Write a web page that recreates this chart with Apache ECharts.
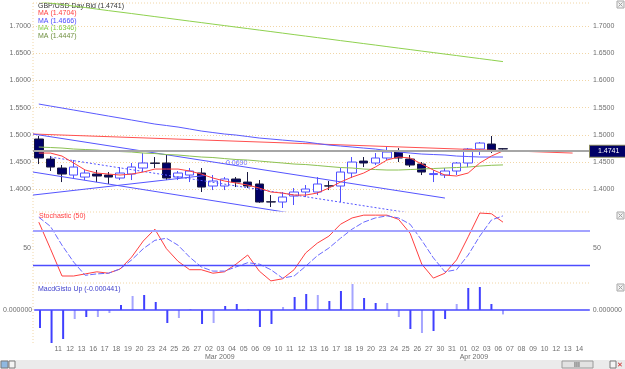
<!DOCTYPE html>
<html>
<head>
<meta charset="utf-8">
<script src="https://cdn.jsdelivr.net/npm/echarts@6/dist/echarts.min.js"></script>
<style>
  html, body { margin: 0; padding: 0; background: #fff; }
  #chart { width: 625px; height: 369px; }
</style>
</head>
<body>
<div id="chart"></div>
<script>
  // day labels, one per slot (Feb 10 .. Apr 14 + one empty slot)
  var dayLabels = ['10', '11', '12', '13', '16', '17', '18', '19', '20', '23', '24', '25', '26', '27',
    '02', '03', '04', '05', '06', '09', '10', '11', '12', '13', '16', '17', '18', '19', '20', '23', '24', '25', '26', '27', '30', '31',
    '01', '02', '03', '06', '07', '08', '09', '10', '12', '13', '14', '']
  var monthLabels = {14: 'Mar 2009', 36: 'Apr 2009'}

  // [open, close, low, high]
  var candles = [
    [1.4923, 1.4574, 1.4463, 1.4978], [1.4555, 1.4408, 1.4335, 1.4610], [1.4390, 1.4279, 1.4132, 1.4445],
    [1.4261, 1.4408, 1.4206, 1.4537], [1.4224, 1.4298, 1.4169, 1.4353], [1.4279, 1.4243, 1.4132, 1.4353],
    [1.4261, 1.4224, 1.4096, 1.4316], [1.4206, 1.4298, 1.4169, 1.4408], [1.4279, 1.4408, 1.4169, 1.4482],
    [1.4390, 1.4482, 1.4316, 1.4665], [1.4482, 1.4475, 1.4390, 1.4592], [1.4482, 1.4206, 1.4169, 1.4629],
    [1.4224, 1.4298, 1.4169, 1.4335], [1.4261, 1.4335, 1.4132, 1.4390], [1.4298, 1.4040, 1.3949, 1.4390],
    [1.4059, 1.4151, 1.3985, 1.4261], [1.4059, 1.4188, 1.3985, 1.4224], [1.4188, 1.4132, 1.4040, 1.4224],
    [1.4132, 1.4059, 1.4022, 1.4316], [1.4096, 1.3765, 1.3750, 1.4169], [1.3770, 1.3765, 1.3673, 1.3893],
    [1.3765, 1.3857, 1.3655, 1.3949], [1.3875, 1.3949, 1.3710, 1.4022], [1.3949, 1.4004, 1.3857, 1.4077],
    [1.3949, 1.4096, 1.3893, 1.4224], [1.4062, 1.4059, 1.3985, 1.4151], [1.4059, 1.4316, 1.3765, 1.4390],
    [1.4298, 1.4500, 1.4206, 1.4592], [1.4518, 1.4482, 1.4408, 1.4592], [1.4482, 1.4574, 1.4445, 1.4665],
    [1.4574, 1.4684, 1.4537, 1.4776], [1.4684, 1.4574, 1.4500, 1.4757], [1.4555, 1.4445, 1.4408, 1.4629],
    [1.4463, 1.4316, 1.4261, 1.4500], [1.4270, 1.4288, 1.4132, 1.4353], [1.4261, 1.4335, 1.4206, 1.4390],
    [1.4335, 1.4482, 1.4261, 1.4500], [1.4482, 1.4739, 1.4408, 1.4757], [1.4739, 1.4849, 1.4629, 1.4868],
    [1.4831, 1.4721, 1.4665, 1.4978], [1.4745, 1.4741, 1.4730, 1.4757]
  ]
  var lastPrice = 1.4741

  var maRed = [1.4665, 1.4665, 1.4610, 1.4482, 1.4353, 1.4298, 1.4279, 1.4261, 1.4279, 1.4316,
    1.4371, 1.4371, 1.4371, 1.4335, 1.4279, 1.4206, 1.4151, 1.4114, 1.4077, 1.4022,
    1.3949, 1.3930, 1.3893, 1.3893, 1.3930, 1.4022, 1.4132, 1.4224, 1.4298, 1.4408,
    1.4537, 1.4592, 1.4574, 1.4463, 1.4353, 1.4261, 1.4243, 1.4298, 1.4482, 1.4610, 1.4704]
  var maBlue = [1.5566, 1.5529, 1.5493, 1.5456, 1.5419, 1.5382, 1.5345, 1.5309, 1.5272, 1.5235,
    1.5198, 1.5171, 1.5143, 1.5107, 1.5070, 1.5042, 1.5015, 1.4996, 1.4969, 1.4941,
    1.4923, 1.4904, 1.4886, 1.4868, 1.4840, 1.4812, 1.4794, 1.4776, 1.4757, 1.4739,
    1.4711, 1.4684, 1.4665, 1.4647, 1.4638, 1.4629, 1.4610, 1.4601, 1.4592, 1.4592, 1.4592]
  var maGreen = [1.7449, 1.7421, 1.7394, 1.7366, 1.7340, 1.7311, 1.7283, 1.7256, 1.7229, 1.7201,
    1.7173, 1.7146, 1.7118, 1.7090, 1.7063, 1.7035, 1.7008, 1.6980, 1.6953, 1.6925,
    1.6898, 1.6870, 1.6842, 1.6815, 1.6787, 1.6760, 1.6732, 1.6705, 1.6677, 1.6650,
    1.6622, 1.6594, 1.6567, 1.6539, 1.6512, 1.6484, 1.6457, 1.6429, 1.6402, 1.6374, 1.6346]
  var maOlive = [1.4776, 1.4767, 1.4757, 1.4739, 1.4730, 1.4721, 1.4702, 1.4693, 1.4684, 1.4665,
    1.4656, 1.4638, 1.4629, 1.4610, 1.4592, 1.4583, 1.4564, 1.4546, 1.4537, 1.4518,
    1.4500, 1.4482, 1.4463, 1.4454, 1.4436, 1.4417, 1.4399, 1.4390, 1.4371, 1.4362,
    1.4353, 1.4353, 1.4362, 1.4371, 1.4381, 1.4390, 1.4399, 1.4408, 1.4426, 1.4440, 1.4447]

  // drawn trend lines: [slot, price] end points
  var trendRed = [[-0.5, 1.5015], [46, 1.4665]]
  var trendBlueUpper = [[-0.5, 1.5015], [35, 1.3838]]
  var trendBlueLower = [[-0.5, 1.4316], [21.7, 1.3563]]
  var trendBlueMid = [[1, 1.4592], [32, 1.3563]]
  var trendBlueRise = [[-0.5, 1.3893], [14.3, 1.4252]]

  var stochK = [87, 49, 10, 10, 13, 16, 14, 20, 37, 60, 77, 49, 31, 19, 19, 14, 16, 27, 40, 17,
    3, 6, 19, 43, 57, 67, 84, 93, 97, 97, 97, 91, 71, 27, 7, 14, 33, 66, 100, 99, 87]
  var stochD = [94, 81, 54, 30, 11, 13, 14, 20, 33, 49, 61, 64, 54, 37, 23, 17, 17, 23, 29, 27,
    19, 7, 10, 24, 39, 50, 64, 77, 87, 93, 96, 93, 84, 61, 36, 16, 19, 40, 67, 90, 96]
  var stochLevels = [75, 25]

  var macd = [-0.0018, -0.0033, -0.0029, -0.0009, -0.0007, -0.0007, -0.0003, 0.0005, 0.0014, 0.0015,
    0.0008, -0.0013, -0.0008, 0.0001, -0.0014, -0.0013, 0.0004, 0.0006, 0.0001, -0.0017,
    -0.0014, 0.0003, 0.0013, 0.0016, 0.0015, 0.0009, 0.0019, 0.0026, 0.0012, 0.0007,
    0.0007, -0.0007, -0.0019, -0.0023, -0.0021, -0.0009, 0.0006, 0.0022, 0.0023, 0.0006, -0.000441]
  var macdLight = [0, 0, 0, 1, 0, 1, 1, 0, 1, 0, 0, 0, 1, 1, 0, 1, 0, 0, 1, 0,
    0, 1, 0, 0, 1, 0, 0, 1, 0, 0, 1, 1, 0, 1, 0, 0, 1, 0, 0, 0, 1]

  var priceTicks = [1.40, 1.45, 1.50, 1.55, 1.60, 1.65, 1.70]

  var font = 'Liberation Sans'
  var labelColor = '#6e6e6e'
  var gridColor = '#f1d6a6'

  function catAxis (grid, showLabels) {
    return {
      type: 'category',
      gridIndex: grid,
      data: dayLabels,
      boundaryGap: true,
      axisLine: {show: false},
      axisTick: {show: false},
      splitLine: {show: false},
      axisLabel: showLabels ? {
        show: true,
        interval: 0,
        align: 'left',
        verticalAlign: 'top',
        padding: [0, 0, 0, 3],
        margin: 2,
        fontSize: 7,
        lineHeight: 8,
        fontFamily: font,
        color: labelColor,
        formatter: function (val, idx) {
          if (idx === 0) return ''
          return monthLabels[idx] ? val + '\n' + monthLabels[idx] : val
        }
      } : {show: false}
    }
  }

  function valAxis (grid, pos, min, max, ticks, fmt, split) {
    return {
      type: 'value',
      gridIndex: grid,
      position: pos,
      min: min,
      max: max,
      axisLine: {show: false},
      axisTick: {show: false, customValues: ticks},
      splitLine: {show: !!split, lineStyle: {color: gridColor, type: [1, 2], width: 1}},
      axisLabel: {
        customValues: ticks,
        margin: pos === 'left' ? 2 : 3,
        fontSize: 7,
        fontFamily: font,
        color: labelColor,
        formatter: fmt
      }
    }
  }

  function trend (data, color, dashed) {
    return {
      type: 'line',
      xAxisIndex: 1,
      yAxisIndex: 0,
      data: data,
      symbol: 'none',
      silent: true,
      lineStyle: {color: color, width: 1, type: dashed ? [2, 2] : 'solid'},
      z: 3
    }
  }

  function ma (data, color) {
    return {
      type: 'line',
      xAxisIndex: 0,
      yAxisIndex: 0,
      data: data,
      symbol: 'none',
      silent: true,
      lineStyle: {color: color, width: 1},
      z: 4
    }
  }

  function level (value, color, width) {
    return {
      symbol: 'none',
      silent: true,
      label: {show: false},
      lineStyle: {color: color, width: width, type: 'solid', opacity: 1},
      emphasis: {disabled: true},
      data: [{yAxis: value, lineStyle: {color: color, width: width}}]
    }
  }

  function txt (x, y, s, color) {
    return {
      type: 'text',
      x: x,
      y: y,
      silent: true,
      style: {text: s, fill: color, font: '7px ' + font, textVerticalAlign: 'middle'}
    }
  }

  function hline (y, x1, x2) {
    return {
      type: 'line',
      silent: true,
      shape: {x1: x1, y1: y, x2: x2, y2: y},
      style: {stroke: gridColor, lineWidth: 1, lineDash: [1, 2]}
    }
  }

  function boxIcon (x, y) {
    return {
      type: 'group',
      x: x,
      y: y,
      silent: true,
      children: [
        {type: 'rect', shape: {x: 0, y: 0, width: 7, height: 7}, style: {fill: '#f2f2f2', stroke: '#a8a8a8', lineWidth: 1}},
        {type: 'line', shape: {x1: 1.5, y1: 1.5, x2: 5.5, y2: 5.5}, style: {stroke: '#a0a0a0', lineWidth: 1}},
        {type: 'line', shape: {x1: 5.5, y1: 1.5, x2: 1.5, y2: 5.5}, style: {stroke: '#a0a0a0', lineWidth: 1}}
      ]
    }
  }

  var chart = echarts.init(document.getElementById('chart'), null, {renderer: 'canvas'})

  var option = {
    animation: false,
    backgroundColor: '#ffffff',
    grid: [
      {left: 33, right: 35, top: 3, height: 208},
      {left: 33, right: 35, top: 212, height: 71},
      {left: 33, right: 35, top: 284, height: 59}
    ],
    xAxis: [
      catAxis(0, false),
      {type: 'value', gridIndex: 0, min: -0.5, max: 47.5, show: false},
      catAxis(1, false),
      catAxis(2, true)
    ],
    yAxis: [
      valAxis(0, 'left', 1.36, 1.7423, priceTicks, function (v) { return v.toFixed(4) }, true),
      valAxis(0, 'right', 1.36, 1.7423, priceTicks, function (v) { return v.toFixed(4) }, false),
      valAxis(1, 'left', 0, 101.5, [50], function (v) { return String(v) }, false),
      valAxis(1, 'right', 0, 101.5, [50], function (v) { return String(v) }, false),
      valAxis(2, 'left', -0.0033, 0.0026, [0], function (v) { return v.toFixed(6) }, false),
      valAxis(2, 'right', -0.0033, 0.0026, [0], function (v) { return v.toFixed(6) }, false)
    ],
    series: [
      {
        type: 'candlestick',
        xAxisIndex: 0,
        yAxisIndex: 0,
        data: candles,
        barWidth: 9,
        silent: true,
        itemStyle: {
          color: '#ffffff',
          color0: '#000066',
          borderColor: '#5050ff',
          borderColor0: '#1a1a40',
          borderWidth: 1
        },
        markLine: {
          symbol: 'none',
          silent: true,
          lineStyle: {color: '#a6a6a6', width: 2, type: 'solid'},
          label: {
            show: true,
            position: 'end',
            distance: 0,
            formatter: lastPrice.toFixed(4),
            backgroundColor: '#000066',
            borderColor: '#8a8a60',
            borderWidth: 1,
            color: '#ffffff',
            fontSize: 7,
            fontFamily: font,
            padding: [2, 8, 2, 8]
          },
          data: [{yAxis: lastPrice}]
        },
        z: 2
      },
      trend(trendRed, '#ff5050', false),
      trend(trendBlueUpper, '#5555ff', false),
      trend(trendBlueLower, '#5555ff', false),
      trend(trendBlueRise, '#5555ff', false),
      trend(trendBlueMid, '#5555ff', true),
      ma(maGreen, '#8fd14f'),
      ma(maOlive, '#8cc152'),
      ma(maBlue, '#5a5aff'),
      ma(maRed, '#ff4040'),
      {
        type: 'line',
        xAxisIndex: 2,
        yAxisIndex: 2,
        data: stochK,
        symbol: 'none',
        silent: true,
        lineStyle: {color: '#ff4040', width: 1},
        markLine: level(stochLevels[0], '#a3a3ff', 2)
      },
      {
        type: 'line',
        xAxisIndex: 2,
        yAxisIndex: 2,
        data: stochD,
        symbol: 'none',
        silent: true,
        color: '#5050ff',
        lineStyle: {color: '#6a6aff', width: 1, type: [6, 2]},
        markLine: level(stochLevels[1], '#4d4dff', 1.4)
      },
      {
        type: 'bar',
        xAxisIndex: 3,
        yAxisIndex: 4,
        barWidth: 2,
        silent: true,
        data: macd.map(function (v, i) {
          return {value: v, itemStyle: {color: macdLight[i] ? '#a5a5ff' : '#4040ff'}}
        }),
        markLine: level(0, '#4848ff', 1.5)
      }
    ],
    graphic: [
      hline(3, 33, 590),
      hline(212, 33, 590),
      hline(283, 33, 590),
      {
        type: 'line',
        silent: true,
        shape: {x1: 33, y1: 3, x2: 33, y2: 343},
        style: {stroke: gridColor, lineWidth: 1, lineDash: [1, 2]}
      },
      txt(38, 6, 'GBP/USD Day Bid (1.4741)', '#333333'),
      txt(38, 13, 'MA (1.4704)', '#ff4040'),
      txt(38, 21, 'MA (1.4666)', '#4a4aff'),
      txt(38, 28, 'MA (1.6346)', '#7ccc3c'),
      txt(38, 36, 'MA (1.4447)', '#6f8f3f'),
      txt(226, 163, '0.0690', '#6a6aff'),
      txt(39, 216, 'Stochastic (50)', '#ff4040'),
      txt(38, 289, 'MacdGisto Up (-0.000441)', '#4040cc'),
      boxIcon(617, 1),
      boxIcon(617, 212),
      boxIcon(617, 284),
      {
        type: 'rect',
        silent: true,
        shape: {x: 0, y: 360, width: 625, height: 9},
        style: {fill: '#ebebeb'}
      },
      {
        type: 'rect',
        silent: true,
        shape: {x: 1, y: 361, width: 7, height: 7},
        style: {fill: '#8fb8e0', stroke: '#7a7a7a', lineWidth: 1}
      },
      {
        type: 'rect',
        silent: true,
        shape: {x: 9, y: 361, width: 6, height: 7},
        style: {fill: '#f4f4f4', stroke: '#7a7a7a', lineWidth: 1}
      },
      {
        type: 'rect',
        silent: true,
        shape: {x: 562, y: 361, width: 31, height: 7},
        style: {fill: '#e2e2e2', stroke: '#9a9a9a', lineWidth: 1}
      },
      txt(574, 365, 'III', '#333333'),
      {
        type: 'rect',
        silent: true,
        shape: {x: 610, y: 361, width: 6, height: 7},
        style: {fill: '#f4f4f4', stroke: '#7a7a7a', lineWidth: 1}
      },
      txt(617, 365, '✕', '#cc2222')
    ]
  }

  chart.setOption(option, true)
  window.onresize = chart.resize
</script>
</body>
</html>
